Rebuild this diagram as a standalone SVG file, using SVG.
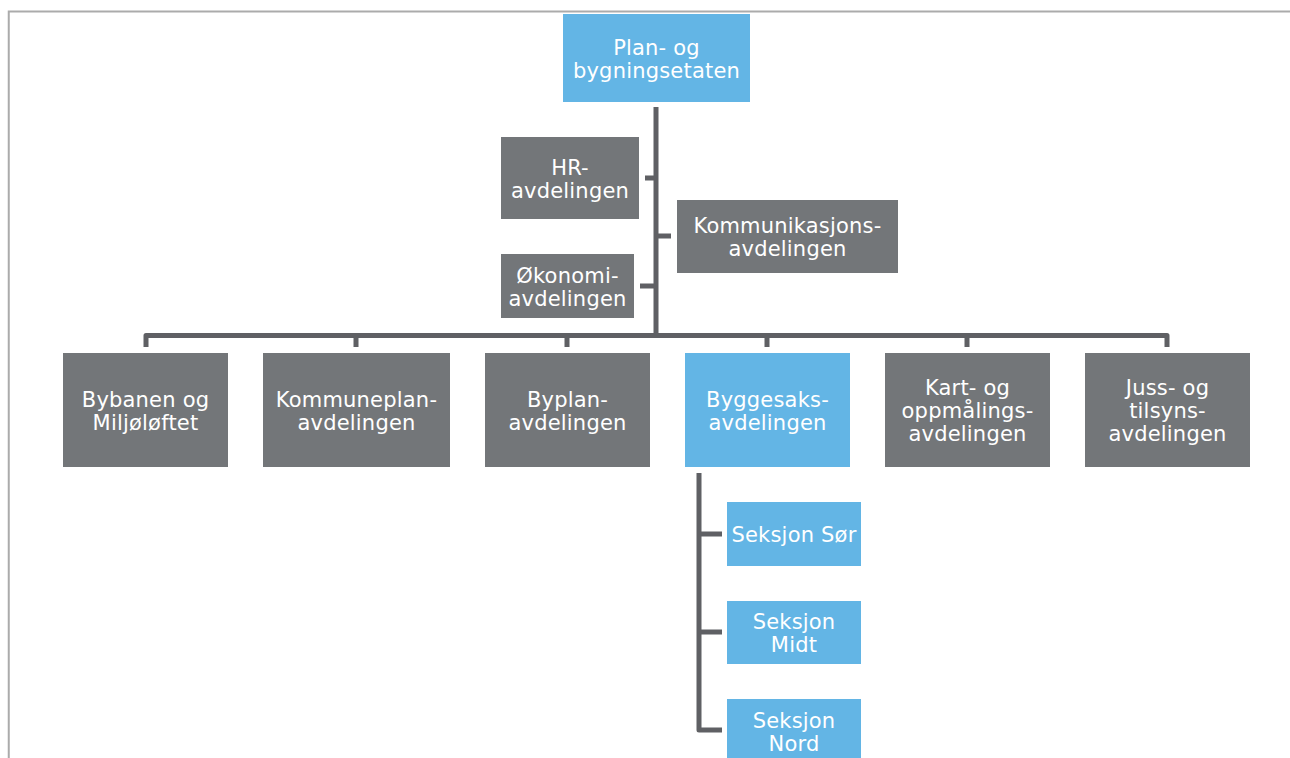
<svg xmlns="http://www.w3.org/2000/svg" width="1290" height="758" viewBox="0 0 1290 758">
<style>
.blue{fill:#63b5e5}
.gray{fill:#737679}
.t{font-family:"DejaVu Sans","Verdana",sans-serif;font-size:21px;letter-spacing:0.2px;fill:#ffffff;text-anchor:middle}
.c{fill:none;stroke:#5f6064;stroke-width:5;stroke-linejoin:round}
</style>
<rect x="0" y="0" width="1290" height="758" fill="#ffffff"/>
<path d="M8.75,758 V11.5 H1290" fill="none" stroke="#ababab" stroke-width="2"/>
<g id="connectors">
<path class="c" d="M146,347 V335.5 H1167 V347"/>
<path class="c" d="M356,335.5 V347 M567,335.5 V347 M767,335.5 V347 M967,335.5 V347"/>
<path class="c" d="M656,107 V335.5"/>
<path class="c" d="M645,178 H656 M656,236 H671 M640,286 H656"/>
<path class="c" d="M699,473 V730 H722 M699,534 H722 M699,632 H722"/>
</g>
<g id="n-top"><rect class="blue" x="563" y="14" width="187" height="88"/>
<text class="t" x="656.5" y="54.5">Plan- og</text><text class="t" x="656.5" y="77.5">bygningsetaten</text></g>
<g id="n-hr"><rect class="gray" x="501" y="137" width="138" height="82"/>
<text class="t" x="570" y="174.5">HR-</text><text class="t" x="570" y="197.5">avdelingen</text></g>
<g id="n-komm"><rect class="gray" x="677" y="200" width="221" height="73"/>
<text class="t" x="787.5" y="233">Kommunikasjons-</text><text class="t" x="787.5" y="256">avdelingen</text></g>
<g id="n-okonomi"><rect class="gray" x="501" y="254" width="133" height="64"/>
<text class="t" x="567.5" y="282.5">Økonomi-</text><text class="t" x="567.5" y="305.5">avdelingen</text></g>
<g id="n-bybanen"><rect class="gray" x="63" y="353" width="165" height="114"/>
<text class="t" x="145.5" y="406.5">Bybanen og</text><text class="t" x="145.5" y="429.5">Miljøløftet</text></g>
<g id="n-kommuneplan"><rect class="gray" x="263" y="353" width="187" height="114"/>
<text class="t" x="356.5" y="406.5">Kommuneplan-</text><text class="t" x="356.5" y="429.5">avdelingen</text></g>
<g id="n-byplan"><rect class="gray" x="485" y="353" width="165" height="114"/>
<text class="t" x="567.5" y="406.5">Byplan-</text><text class="t" x="567.5" y="429.5">avdelingen</text></g>
<g id="n-byggesaks"><rect class="blue" x="685" y="353" width="165" height="114"/>
<text class="t" x="767.5" y="406.5">Byggesaks-</text><text class="t" x="767.5" y="429.5">avdelingen</text></g>
<g id="n-kart"><rect class="gray" x="885" y="353" width="165" height="114"/>
<text class="t" x="967.5" y="395">Kart- og</text><text class="t" x="967.5" y="418">oppmålings-</text><text class="t" x="967.5" y="441">avdelingen</text></g>
<g id="n-juss"><rect class="gray" x="1085" y="353" width="165" height="114"/>
<text class="t" x="1167.5" y="395">Juss- og</text><text class="t" x="1167.5" y="418">tilsyns-</text><text class="t" x="1167.5" y="441">avdelingen</text></g>
<g id="n-sor"><rect class="blue" x="727" y="502" width="134" height="64"/>
<text class="t" x="794" y="541.5">Seksjon Sør</text></g>
<g id="n-midt"><rect class="blue" x="727" y="601" width="134" height="63"/>
<text class="t" x="794" y="629">Seksjon</text><text class="t" x="794" y="652">Midt</text></g>
<g id="n-nord"><rect class="blue" x="727" y="699" width="134" height="64"/>
<text class="t" x="794" y="727.5">Seksjon</text><text class="t" x="794" y="750.5">Nord</text></g>
</svg>
